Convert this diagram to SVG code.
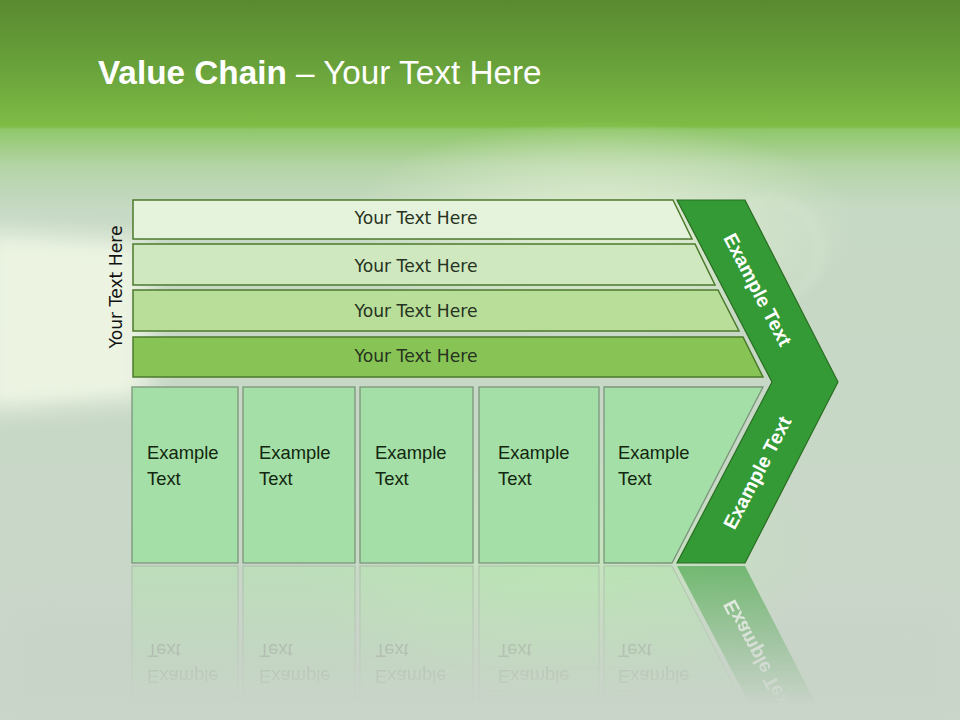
<svg xmlns="http://www.w3.org/2000/svg" width="960" height="720" viewBox="0 0 960 720">
<defs>
<linearGradient id="bg" x1="0" y1="0" x2="0" y2="720" gradientUnits="userSpaceOnUse">
<stop offset="0" stop-color="#5a8a30"/>
<stop offset="0.09" stop-color="#68a13a"/>
<stop offset="0.175" stop-color="#7ebc46"/>
<stop offset="0.18" stop-color="#90c76a"/>
<stop offset="0.23" stop-color="#b4d4a6"/>
<stop offset="0.29" stop-color="#c6d9c4"/>
<stop offset="1" stop-color="#cad6ca"/>
</linearGradient>
<radialGradient id="glow" cx="0.5" cy="0.5" r="0.5">
<stop offset="0" stop-color="#e4f2d4" stop-opacity="0.9"/>
<stop offset="1" stop-color="#e4f2d4" stop-opacity="0"/>
</radialGradient>
<radialGradient id="glow2" cx="0.5" cy="0.5" r="0.5">
<stop offset="0" stop-color="#c6e8bc" stop-opacity="0.9"/>
<stop offset="1" stop-color="#c6e8bc" stop-opacity="0"/>
</radialGradient>
<filter id="blur8" x="-20%" y="-20%" width="140%" height="140%"><feGaussianBlur stdDeviation="6"/></filter>
<filter id="blur12" x="-30%" y="-30%" width="160%" height="160%"><feGaussianBlur stdDeviation="12"/></filter>
<filter id="blur20" x="-30%" y="-30%" width="160%" height="160%"><feGaussianBlur stdDeviation="20"/></filter>
<linearGradient id="fade" x1="0" y1="566" x2="0" y2="705" gradientUnits="userSpaceOnUse">
<stop offset="0" stop-color="#fff" stop-opacity="0.6"/>
<stop offset="1" stop-color="#fff" stop-opacity="0"/>
</linearGradient>
<mask id="reflMask" maskUnits="userSpaceOnUse" x="0" y="560" width="960" height="160">
<rect x="0" y="560" width="960" height="160" fill="url(#fade)"/>
</mask>
<style>
.bar{stroke:#4c7a2c;stroke-width:1.5}
.box{fill:#a3dfa6;stroke:#7c957c;stroke-width:1.3}
.chev{fill:#339a36;stroke:#2a6e22;stroke-width:1.2}
.bt{font-family:"DejaVu Sans",Verdana,sans-serif;font-size:17.2px;fill:#26331f;text-anchor:middle}
.vt{font-family:"DejaVu Sans",Verdana,sans-serif;font-size:17.2px;fill:#111;text-anchor:middle}
.et{font-family:"Liberation Sans",Arial,sans-serif;font-size:18.4px;fill:#13260f}
.ct{font-family:"Liberation Sans",Arial,sans-serif;font-size:19.5px;font-weight:bold;fill:#fff;text-anchor:middle}
.title{font-family:"Liberation Sans",Arial,sans-serif;font-size:33.3px;fill:#fff}
.rt{font-family:"Liberation Sans",Arial,sans-serif;font-size:18.4px;fill:#6e7a6e}
</style>
</defs>

<!-- background -->
<rect width="960" height="720" fill="url(#bg)"/>
<ellipse cx="600" cy="230" rx="260" ry="110" fill="url(#glow)"/>
<ellipse cx="560" cy="560" rx="260" ry="140" fill="url(#glow2)"/>
<ellipse cx="770" cy="250" rx="50" ry="50" fill="none" stroke="#e8f4dc" stroke-width="3" opacity="0.5" filter="url(#blur8)"/>
<polygon points="-20,230 150,240 150,398 -20,412" fill="#f3f8e8" opacity="0.8" filter="url(#blur12)"/>
<polygon points="0,245 130,250 130,392 0,400" fill="#eef5e2" opacity="0.5" filter="url(#blur8)"/>
<rect x="0" y="600" width="960" height="120" fill="#c8d0c8" opacity="0.4" filter="url(#blur20)"/>

<!-- title -->
<text class="title" x="98" y="84"><tspan font-weight="bold">Value Chain</tspan> – Your Text Here</text>

<!-- vertical label -->
<text class="vt" transform="translate(122,287) rotate(-90)">Your Text Here</text>

<!-- top bars -->
<g id="bar1"><polygon class="bar" points="133,200 673,200 692,239 133,239" fill="#e6f3dc"/><text class="bt" x="416" y="224">Your Text Here</text></g>
<g id="bar2"><polygon class="bar" points="133,244 695,244 715,285 133,285" fill="#d0e8bf"/><text class="bt" x="416" y="272">Your Text Here</text></g>
<g id="bar3"><polygon class="bar" points="133,290 718,290 739,331 133,331" fill="#b9de9a"/><text class="bt" x="416" y="317">Your Text Here</text></g>
<g id="bar4"><polygon class="bar" points="133,337 743,337 763,377 133,377" fill="#88c455"/><text class="bt" x="416" y="362">Your Text Here</text></g>

<!-- boxes -->
<g id="box1"><rect class="box" x="132" y="387" width="106" height="176"/><text class="et" x="147" y="459">Example</text><text class="et" x="147" y="485">Text</text></g>
<g id="box2"><rect class="box" x="243" y="387" width="112" height="176"/><text class="et" x="259" y="459">Example</text><text class="et" x="259" y="485">Text</text></g>
<g id="box3"><rect class="box" x="360" y="387" width="113" height="176"/><text class="et" x="375" y="459">Example</text><text class="et" x="375" y="485">Text</text></g>
<g id="box4"><rect class="box" x="479" y="387" width="120" height="176"/><text class="et" x="498" y="459">Example</text><text class="et" x="498" y="485">Text</text></g>
<g id="box5"><polygon class="box" points="604,387 763,387 672,563 604,563"/><text class="et" x="618" y="459">Example</text><text class="et" x="618" y="485">Text</text></g>

<!-- chevron -->
<g id="chevron">
<polygon class="chev" points="677,200 745,200 838,382 745,563 677,563 772,382"/>
<text class="ct" transform="translate(757,290) rotate(62.4)" y="6">Example Text</text>
<text class="ct" transform="translate(758,473) rotate(-62.4)" y="6">Example Text</text>
</g>

<!-- reflection -->
<g id="reflection" mask="url(#reflMask)">
<g transform="matrix(1 0 0 -1 0 1129)">
<rect x="132" y="387" width="106" height="176" fill="#b4e2b0" stroke="#98a898"/>
<rect x="243" y="387" width="112" height="176" fill="#b4e2b0" stroke="#98a898"/>
<rect x="360" y="387" width="113" height="176" fill="#b4e2b0" stroke="#98a898"/>
<rect x="479" y="387" width="120" height="176" fill="#b4e2b0" stroke="#98a898"/>
<polygon points="604,387 763,387 672,563 604,563" fill="#b4e2b0" stroke="#98a898"/>
<polygon points="772,382 838,382 745,563 677,563" fill="#3a9e3c"/>
<text class="rt" x="147" y="459">Example</text><text class="rt" x="147" y="485">Text</text>
<text class="rt" x="259" y="459">Example</text><text class="rt" x="259" y="485">Text</text>
<text class="rt" x="375" y="459">Example</text><text class="rt" x="375" y="485">Text</text>
<text class="rt" x="498" y="459">Example</text><text class="rt" x="498" y="485">Text</text>
<text class="rt" x="618" y="459">Example</text><text class="rt" x="618" y="485">Text</text>
<text class="ct" transform="translate(758,473) rotate(-62.4)" y="6">Example Text</text>
</g>
</g>
</svg>
